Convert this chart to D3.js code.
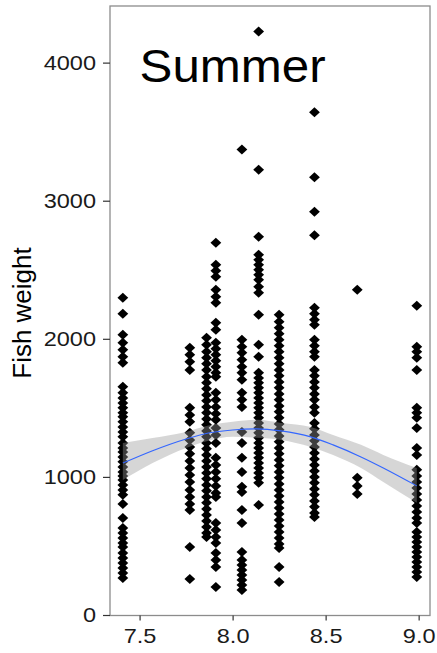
<!DOCTYPE html>
<html>
<head>
<meta charset="utf-8">
<script src="https://cdn.jsdelivr.net/npm/d3@7/dist/d3.min.js"></script>
<style>
  body { margin: 0; background: #fff; }
  text { font-family: "Liberation Sans", Arial, sans-serif; }
</style>
</head>
<body>
<svg id="chart" width="437" height="653"></svg>
<script>
// Sampling levels along the x axis
const levels = [7.41, 7.77, 7.86, 7.91, 8.05, 8.14, 8.25, 8.44, 8.67, 8.99];

// Fish weights recorded at each level
const weights741 = [2297, 2181, 2029, 1971, 1920, 1870, 1826, 1652, 1609, 1572, 1536, 1500, 1464, 1435, 1399, 1362, 1326, 1290, 1246, 1210, 1181, 1145, 1109, 1072, 1036, 1007, 978, 942, 906, 870, 804, 703, 630, 594, 558, 522, 493, 449, 413, 377, 341, 304, 268];
const weights777 = [1935, 1884, 1833, 1775, 1500, 1449, 1399, 1319, 1268, 1217, 1167, 1116, 1065, 1014, 964, 906, 855, 804, 761, 493, 261];
const weights786 = [2007, 1957, 1906, 1862, 1819, 1775, 1725, 1681, 1638, 1594, 1551, 1507, 1464, 1420, 1377, 1333, 1290, 1246, 1203, 1159, 1116, 1072, 1029, 986, 942, 899, 855, 812, 768, 725, 681, 638, 594, 565];
const weights791 = [2696, 2536, 2493, 2449, 2355, 2304, 2261, 2116, 2065, 1971, 1928, 1884, 1841, 1797, 1754, 1725, 1609, 1558, 1507, 1457, 1413, 1355, 1304, 1246, 1138, 1087, 1036, 986, 935, 884, 855, 667, 616, 565, 522, 449, 399, 348, 203];
const weights805 = [3370, 1993, 1942, 1899, 1848, 1797, 1754, 1703, 1609, 1558, 1507, 1326, 1246, 1138, 1036, 928, 891, 761, 667, 457, 399, 362, 326, 290, 254, 217, 181];
const weights814 = [4225, 3225, 2739, 2609, 2572, 2536, 2500, 2464, 2428, 2377, 2333, 2174, 1957, 1870, 1754, 1717, 1681, 1645, 1609, 1572, 1536, 1500, 1464, 1428, 1391, 1355, 1319, 1283, 1246, 1210, 1174, 1138, 1101, 1065, 1029, 993, 957, 797];
const weights825 = [2174, 2123, 2080, 2036, 1993, 1949, 1906, 1862, 1819, 1775, 1732, 1688, 1645, 1601, 1558, 1514, 1471, 1428, 1384, 1341, 1297, 1254, 1210, 1167, 1123, 1080, 1036, 993, 949, 906, 862, 819, 775, 732, 688, 645, 601, 558, 514, 486, 348, 239];
const weights844 = [3640, 3170, 2920, 2750, 2225, 2181, 2138, 2101, 1993, 1949, 1906, 1870, 1775, 1732, 1688, 1645, 1601, 1558, 1507, 1464, 1391, 1348, 1304, 1261, 1217, 1174, 1130, 1087, 1043, 1000, 957, 913, 870, 826, 783, 739, 710];
const weights867 = [2355, 993, 935, 877];
const weights899 = [2239, 1942, 1906, 1862, 1775, 1500, 1464, 1428, 1355, 1210, 1159, 1051, 1007, 964, 920, 877, 833, 790, 746, 703, 667, 601, 565, 529, 493, 457, 420, 384, 348, 312, 275];

const weightsByLevel = [weights741, weights777, weights786, weights791, weights805,
                        weights814, weights825, weights844, weights867, weights899];

// Smoothed trend with its confidence band
const smoothX     = [7.41, 7.57, 7.75, 7.87, 8.00, 8.13, 8.26, 8.42, 8.54, 8.69, 8.81, 8.99];
const smoothFit   = [1100, 1190, 1275, 1318, 1340, 1348, 1333, 1290, 1232, 1145, 1065, 935];
const smoothLower = [ 978, 1100, 1210, 1262, 1290, 1283, 1268, 1217, 1159, 1065,  964, 812];
const smoothUpper = [1246, 1282, 1326, 1372, 1399, 1413, 1391, 1362, 1304, 1232, 1159, 1065];

// Axis ticks
const yTicks = [0, 1000, 2000, 3000, 4000];
const xTicks = [7.5, 8.0, 8.5, 9.0];

const panelTitle = "Summer";
const yTitle = "Fish weight";

const svg = d3.select("#chart");
const panel = { left: 110, right: 430, top: 6, bottom: 615.5 };

const x = d3.scaleLinear().domain([7.341, 9.061]).range([panel.left, panel.right]);
const y = d3.scaleLinear().domain([0, 4410]).range([615, panel.top]);

svg.append("rect").attr("width", 437).attr("height", 653).attr("fill", "#fff");

// Points
const points = [];
levels.forEach((lv, i) => weightsByLevel[i].forEach(w => points.push({ x: lv, w })));

const diamond = "M0,-5L5.4,0L0,5L-5.4,0Z";
svg.append("g").selectAll("path").data(points).join("path")
  .attr("d", diamond)
  .attr("transform", d => `translate(${x(d.x)},${y(d.w)})`)
  .attr("fill", "#000");

// Confidence band and smooth line
const smooth = smoothX.map((sx, i) => ({ x: sx, fit: smoothFit[i], lo: smoothLower[i], hi: smoothUpper[i] }));
svg.append("path").datum(smooth)
  .attr("d", d3.area().x(d => x(d.x)).y0(d => y(d.lo)).y1(d => y(d.hi)).curve(d3.curveMonotoneX))
  .attr("fill", "#999999").attr("fill-opacity", 0.4);
svg.append("path").datum(smooth)
  .attr("d", d3.line().x(d => x(d.x)).y(d => y(d.fit)).curve(d3.curveMonotoneX))
  .attr("fill", "none").attr("stroke", "#3366FF").attr("stroke-width", 1.1);

// Panel border
svg.append("rect")
  .attr("x", panel.left).attr("y", panel.top)
  .attr("width", panel.right - panel.left).attr("height", panel.bottom - panel.top)
  .attr("fill", "none").attr("stroke", "#8c8c8c").attr("stroke-width", 1.3);

// Slightly widened glyphs for the labels
function widen(sel, factor) {
  sel.each(function () {
    const len = this.getComputedTextLength();
    d3.select(this).attr("textLength", len * factor).attr("lengthAdjust", "spacingAndGlyphs");
  });
}

// Axes
const yAxis = svg.append("g").attr("transform", `translate(${panel.left},0)`)
  .call(d3.axisLeft(y).tickValues(yTicks).tickSize(7).tickPadding(7).tickFormat(d3.format("d")));
const xAxis = svg.append("g").attr("transform", `translate(0,${panel.bottom})`)
  .call(d3.axisBottom(x).tickValues(xTicks).tickSize(5).tickPadding(8).tickFormat(d3.format(".1f")));
[yAxis, xAxis].forEach(g => {
  g.select(".domain").remove();
  g.selectAll(".tick line").attr("stroke", "#333").attr("stroke-width", 1.2);
  const t = g.selectAll(".tick text").attr("fill", "#1a1a1a").style("font-size", "21px")
    .style("font-family", "'Liberation Sans', Arial, sans-serif");
  widen(t, 1.12);
});

// Titles
const yt = svg.append("text")
  .attr("transform", `translate(31,${313}) rotate(-90)`)
  .attr("text-anchor", "middle")
  .style("font-size", "26px").attr("fill", "#000")
  .text(yTitle);

const pt = svg.append("text")
  .attr("x", x(8.0)).attr("y", 82)
  .attr("text-anchor", "middle")
  .style("font-size", "46px").attr("fill", "#000")
  .text(panelTitle);
widen(pt, 1.07);
</script>
</body>
</html>
